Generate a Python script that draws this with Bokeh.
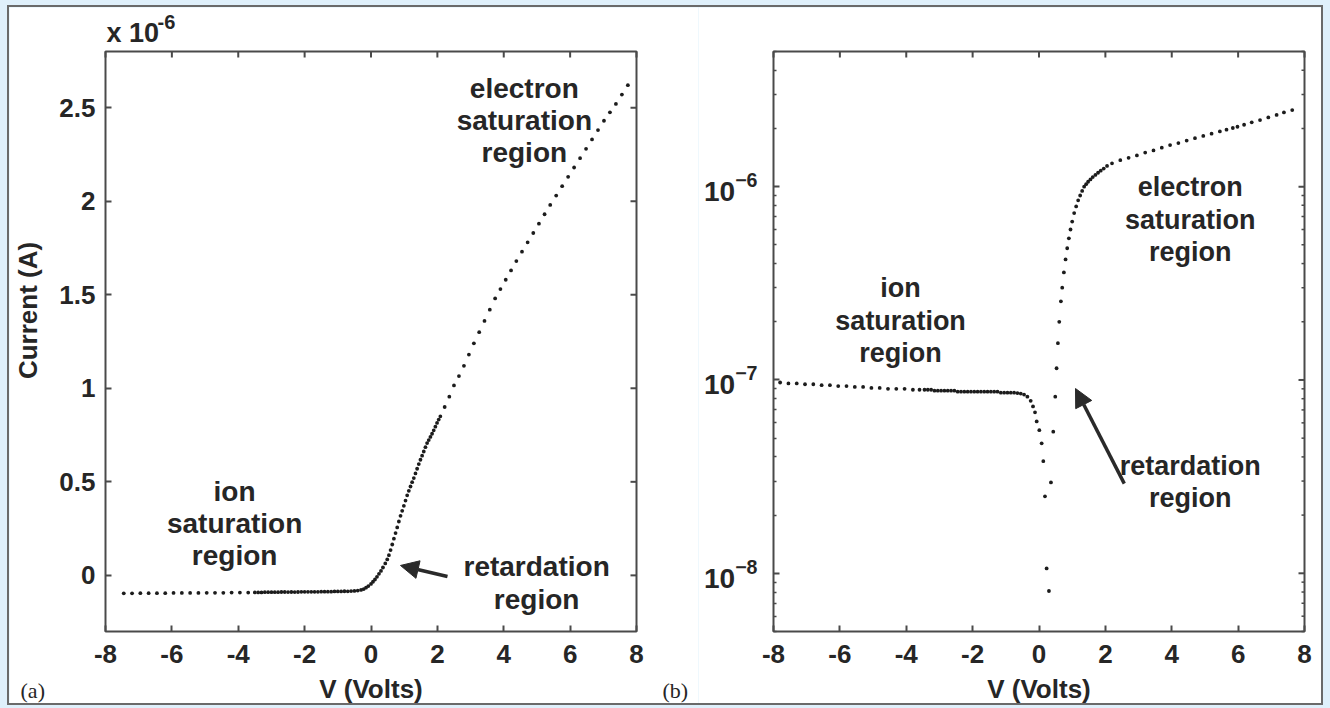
import math
from bokeh.plotting import figure
from bokeh.models import (Range1d, FixedTicker, Label, Arrow, NormalHead)
from bokeh.layouts import row, column
from bokeh.embed import file_html
from bokeh.resources import INLINE

# ---------------- data ----------------
# (a) linear plot: probe voltage (V) and current (units of 1e-6 A)
volts_a = [
    -7.45, -7.20, -6.95, -6.70, -6.45, -6.20, -5.95, -5.70, -5.45, -5.20,
    -4.95, -4.70, -4.45, -4.20, -3.95, -3.70, -3.50,
    -3.40, -3.30, -3.20, -3.10, -3.00, -2.90, -2.80, -2.70, -2.60, -2.50,
    -2.40, -2.30, -2.20, -2.10, -2.00, -1.90, -1.80, -1.70, -1.60, -1.50,
    -1.40, -1.30, -1.20, -1.10, -1.00, -0.90, -0.80, -0.70, -0.60, -0.50,
    -0.40, -0.30, -0.22, -0.15, -0.08, 0.00, 0.06, 0.12, 0.18, 0.24, 0.30,
    0.36, 0.43, 0.49, 0.54, 0.59, 0.64, 0.69, 0.74, 0.79, 0.84, 0.89,
    0.94, 0.99, 1.04, 1.09, 1.14, 1.19, 1.24, 1.29, 1.34, 1.39, 1.44,
    1.49, 1.54, 1.59, 1.64, 1.69, 1.74, 1.79, 1.84, 1.89, 1.94, 1.99,
    2.04, 2.09, 2.22, 2.36, 2.50, 2.65, 2.80, 2.95, 3.10, 3.26, 3.42,
    3.58, 3.74, 3.90, 4.06, 4.22, 4.38, 4.55, 4.72, 4.89, 5.06, 5.23,
    5.40, 5.58, 5.76, 5.94, 6.12, 6.30, 6.48, 6.66, 6.84, 7.02, 7.20,
    7.38, 7.56, 7.74,
]
current_a = [
    -0.096, -0.096, -0.095, -0.095, -0.095, -0.095, -0.094, -0.094, -0.094, -0.094,
    -0.093, -0.093, -0.093, -0.092, -0.092, -0.092, -0.091,
    -0.091, -0.091, -0.090, -0.090, -0.090, -0.090, -0.090, -0.089, -0.089, -0.089,
    -0.089, -0.089, -0.089, -0.088, -0.088, -0.088, -0.088, -0.088, -0.088, -0.087,
    -0.087, -0.087, -0.087, -0.086, -0.086, -0.086, -0.085, -0.085, -0.084, -0.083,
    -0.081, -0.078, -0.073, -0.066, -0.057, -0.046, -0.034, -0.022, -0.008, 0.008, 0.024,
    0.042, 0.064, 0.085, 0.108, 0.135, 0.165, 0.196, 0.226, 0.256, 0.288, 0.318,
    0.345, 0.372, 0.400, 0.428, 0.452, 0.475, 0.498, 0.520, 0.545, 0.570, 0.595,
    0.618, 0.640, 0.662, 0.685, 0.707, 0.723, 0.740, 0.757, 0.775, 0.795, 0.815,
    0.833, 0.850, 0.900, 0.955, 1.015, 1.065, 1.120, 1.180, 1.240, 1.300, 1.360,
    1.420, 1.480, 1.530, 1.580, 1.630, 1.680, 1.730, 1.780, 1.830, 1.880, 1.930,
    1.980, 2.030, 2.080, 2.130, 2.180, 2.230, 2.280, 2.330, 2.380, 2.430, 2.475,
    2.520, 2.570, 2.620,
]

# (b) log plot: probe voltage (V) and |current| (A)
volts_b = [
    -7.80, -7.55, -7.30, -7.05, -6.80, -6.55, -6.30, -6.05, -5.80, -5.55,
    -5.30, -5.05, -4.80, -4.55, -4.30, -4.05, -3.80, -3.60,
    -3.45, -3.35, -3.25, -3.15, -3.05, -2.95, -2.85, -2.75, -2.65, -2.55,
    -2.45, -2.35, -2.25, -2.15, -2.05, -1.95, -1.85, -1.75, -1.65, -1.55,
    -1.45, -1.35, -1.25, -1.15, -1.05, -0.95, -0.85,
    -0.75, -0.65, -0.55, -0.45, -0.35, -0.25, -0.18, -0.12, -0.07, 0.01,
    0.08, 0.13, 0.18, 0.23, 0.30, 0.36, 0.43, 0.49,
    0.53, 0.57, 0.61, 0.66, 0.70, 0.75, 0.80, 0.85, 0.90, 0.95, 1.00,
    1.06, 1.12, 1.18, 1.24, 1.30, 1.36, 1.42, 1.48, 1.55, 1.62, 1.70,
    1.78, 1.86, 1.95, 2.05, 2.20, 2.45, 2.70, 2.95, 3.20, 3.45, 3.70,
    3.95, 4.20, 4.45, 4.70, 4.95, 5.20, 5.45, 5.65, 5.84, 5.98, 6.18,
    6.41, 6.66, 6.91, 7.16, 7.38, 7.63,
]
current_b = [
    9.7e-8, 9.6e-8, 9.6e-8, 9.5e-8, 9.5e-8, 9.4e-8, 9.4e-8, 9.3e-8, 9.3e-8, 9.2e-8,
    9.2e-8, 9.1e-8, 9.1e-8, 9.0e-8, 9.0e-8, 9.0e-8, 8.9e-8, 8.9e-8,
    8.9e-8, 8.9e-8, 8.9e-8, 8.8e-8, 8.8e-8, 8.8e-8, 8.8e-8, 8.8e-8, 8.8e-8, 8.8e-8,
    8.7e-8, 8.7e-8, 8.7e-8, 8.7e-8, 8.7e-8, 8.7e-8, 8.7e-8, 8.7e-8, 8.7e-8, 8.7e-8,
    8.7e-8, 8.7e-8, 8.7e-8, 8.6e-8, 8.6e-8, 8.6e-8, 8.6e-8,
    8.6e-8, 8.55e-8, 8.5e-8, 8.4e-8, 8.2e-8, 7.8e-8, 7.3e-8, 6.8e-8, 6.1e-8, 5.5e-8,
    4.7e-8, 3.8e-8, 2.5e-8, 1.06e-8, 8.1e-9, 2.95e-8, 5.4e-8, 8.2e-8,
    1.15e-7, 1.55e-7, 2.0e-7, 2.55e-7, 3.0e-7, 3.6e-7, 4.2e-7, 4.8e-7, 5.4e-7, 6.0e-7, 6.6e-7,
    7.3e-7, 7.9e-7, 8.5e-7, 9.0e-7, 9.5e-7, 1.0e-6, 1.03e-6, 1.06e-6, 1.09e-6, 1.12e-6, 1.15e-6,
    1.18e-6, 1.21e-6, 1.24e-6, 1.28e-6, 1.32e-6, 1.37e-6, 1.41e-6, 1.45e-6, 1.50e-6, 1.54e-6, 1.59e-6,
    1.64e-6, 1.68e-6, 1.73e-6, 1.78e-6, 1.83e-6, 1.88e-6, 1.93e-6, 1.97e-6, 2.01e-6, 2.04e-6, 2.09e-6,
    2.15e-6, 2.21e-6, 2.28e-6, 2.35e-6, 2.42e-6, 2.49e-6,
]

x_ticks = [-8, -6, -4, -2, 0, 2, 4, 6, 8]
lin_y_ticks = [0, 0.5, 1, 1.5, 2, 2.5]
log_y_ticks = [1e-8, 1e-7, 1e-6]

# ---------------- geometry & styling ----------------
FONT = "Liberation Sans"
INK = "#1c1c1c"
TXT = "#262626"
AXC = "#4a4a4a"
TICK_FS = "26px"
H = 696
W_LEFT = 689
W_RIGHT = 623
BORDER_TOP, BORDER_BOTTOM = 44, 72          # px around the plot box
A_LEFT, A_RIGHT = 96, 62                    # left figure side borders (px)
B_LEFT, B_RIGHT = 75, 17                    # right figure side borders (px)
XR = (-8, 8)
YA = (-0.3, 2.8)
YB = (5e-9, 5e-6)

FRAME_H = H - BORDER_TOP - BORDER_BOTTOM
FRAME_W = W_LEFT - A_LEFT - A_RIGHT
PX_X = FRAME_W / (XR[1] - XR[0])
PX_YA = FRAME_H / (YA[1] - YA[0])
LB = (math.log10(YB[0]), math.log10(YB[1]))
PX_YB = FRAME_H / (LB[1] - LB[0])


def ext_x(left, right):
    return Range1d(XR[0] - left / PX_X, XR[1] + right / PX_X)


ya_range = Range1d(YA[0] - BORDER_BOTTOM / PX_YA, YA[1] + BORDER_TOP / PX_YA)
yb_range = Range1d(10 ** (LB[0] - BORDER_BOTTOM / PX_YB), 10 ** (LB[1] + BORDER_TOP / PX_YB))


def style_axis(ax, standoff=13, size=TICK_FS):
    ax.axis_line_color = None
    ax.major_tick_in = 6
    ax.major_tick_out = 0
    ax.major_tick_line_color = AXC
    ax.major_tick_line_width = 2
    ax.minor_tick_in = 0
    ax.minor_tick_out = 0
    ax.major_label_text_font = FONT
    ax.major_label_text_font_style = "bold"
    ax.major_label_text_color = TXT
    ax.major_label_text_font_size = size
    ax.major_label_standoff = standoff
    ax.axis_label_text_font = FONT
    ax.axis_label_text_font_style = "bold"
    ax.axis_label_text_font_size = TICK_FS
    ax.axis_label_text_color = TXT


def base_fig(width, xr, y_type, yr):
    p = figure(width=width, height=H, x_range=xr, y_range=yr,
               y_axis_type=y_type, output_backend="svg", toolbar_location=None,
               min_border=0)
    p.grid.visible = False
    p.outline_line_color = None
    p.background_fill_color = "white"
    p.border_fill_color = "white"
    return p


def box(p, ylim, y_major, y_minor=None):
    p.quad(left=[XR[0]], right=[XR[1]], bottom=[ylim[0]], top=[ylim[1]],
           fill_color=None, line_color=AXC, line_width=2)
    n = len(x_ticks)
    p.ray(x=x_ticks, y=[ylim[1]] * n, length=6, angle=-math.pi / 2, length_units="screen",
          line_color=AXC, line_width=2)
    p.ray(x=[XR[1]] * len(y_major), y=y_major, length=6, angle=math.pi, length_units="screen",
          line_color=AXC, line_width=2)
    if y_minor:
        p.ray(x=[XR[1]] * len(y_minor), y=y_minor, length=3, angle=math.pi,
              length_units="screen", line_color=AXC, line_width=1.5)


def label(p, x, y, text, size="27px", font=FONT, style="bold", align="center",
          angle=0.0, line_height=1.07):
    p.add_layout(Label(x=x, y=y, text=text, text_font=font, text_font_style=style,
                       text_font_size=size, text_color=TXT, text_align=align,
                       text_baseline="middle", text_line_height=line_height, angle=angle))


def arrow(p, xs, ys, xe, ye):
    p.add_layout(Arrow(x_start=xs, y_start=ys, x_end=xe, y_end=ye,
                       line_width=3.5, line_color="#2a2a2a",
                       end=NormalHead(size=18, fill_color="#2a2a2a", line_color="#2a2a2a")))


x_overrides = {t: str(t) for t in x_ticks}

# ---------------- (a) linear ----------------
pa = base_fig(W_LEFT, ext_x(A_LEFT, A_RIGHT), "linear", ya_range)
box(pa, YA, lin_y_ticks)
xa = pa.xaxis[0]
ya = pa.yaxis[0]
xa.ticker = FixedTicker(ticks=x_ticks)
ya.ticker = FixedTicker(ticks=lin_y_ticks)
style_axis(xa, 13)
style_axis(ya, 10)
xa.fixed_location = YA[0]
ya.fixed_location = XR[0]
xa.bounds = XR
ya.bounds = YA
xa.major_label_overrides = x_overrides
ya.major_label_overrides = {t: f"{t:g}" for t in lin_y_ticks}
xa.axis_label = "V (Volts)"
xa.axis_label_standoff = 8

pa.scatter(volts_a, current_a, size=3.8, color=INK, line_color=None)

label(pa, -10.35, 1.416, "Current (A)", size=TICK_FS, angle=math.pi / 2)
label(pa, 4.62, 2.43, "electron\nsaturation\nregion", size="28px", line_height=1.03)
label(pa, -4.11, 0.277, "ion\nsaturation\nregion", size="28px", line_height=1.03)
label(pa, 4.99, -0.043, "retardation\nregion", size="28px", line_height=1.06)
arrow(pa, 2.305, -0.006, 0.888, 0.053)
label(pa, -7.97, 2.90, "x 10", size="27px", align="left")
label(pa, -6.43, 2.96, "-6", size="20px", align="left")
label(pa, -10.56, -0.615, "(a)", size="22px", font="Liberation Serif", style="normal", align="left")
label(pa, 8.78, -0.615, "(b)", size="22px", font="Liberation Serif", style="normal", align="left")

# ---------------- (b) log ----------------
pb = base_fig(W_RIGHT, ext_x(B_LEFT, B_RIGHT), "log", yb_range)
minor = [m * 10.0 ** e for e in (-9, -8, -7, -6) for m in range(2, 10)]
minor = [m for m in minor if YB[0] <= m <= YB[1]]
box(pb, YB, log_y_ticks, minor)
xb = pb.xaxis[0]
yb = pb.yaxis[0]
xb.ticker = FixedTicker(ticks=x_ticks)
yb.ticker = FixedTicker(ticks=log_y_ticks, minor_ticks=minor)
style_axis(xb, 13)
style_axis(yb, 16, "28px")
xb.fixed_location = YB[0]
yb.fixed_location = XR[0]
xb.bounds = XR
yb.bounds = YB
yb.minor_tick_in = 3
yb.minor_tick_line_color = AXC
yb.minor_tick_line_width = 1.5
xb.major_label_overrides = x_overrides
xb.axis_label = "V (Volts)"
xb.axis_label_standoff = 8

pb.scatter(volts_b, current_b, size=3.8, color=INK, line_color=None)

label(pb, -4.17, 2.03e-7, "ion\nsaturation\nregion")
label(pb, 4.56, 6.76e-7, "electron\nsaturation\nregion")
label(pb, 4.56, 2.98e-8, "retardation\nregion")
arrow(pb, 2.57, 2.91e-8, 1.10, 9.03e-8)

inner = row(pa, pb, styles={"outline": "2px solid #6a6a6a"})
page = column(inner, styles={"background-color": "#dff0fb", "padding": "7px 9px 5px 9px"})

open("out.html", "w").write(file_html(page, INLINE))
